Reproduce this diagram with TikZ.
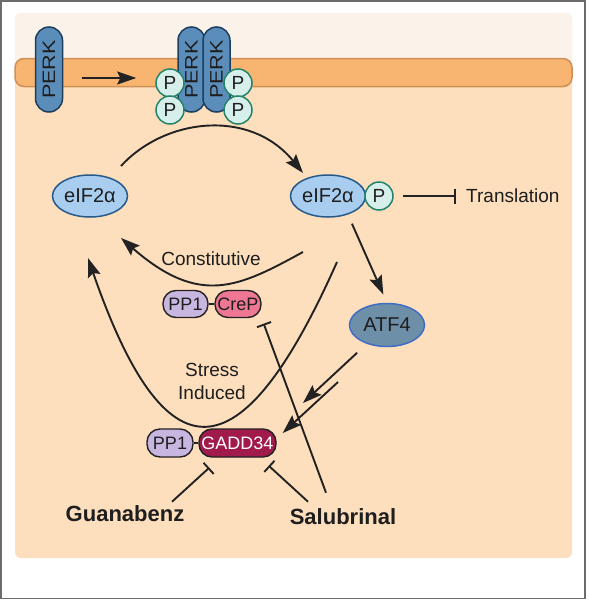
\documentclass[tikz,border=0pt]{standalone}
\usepackage{fontspec}
\setmainfont{Liberation Sans}
\usepackage{graphicx}
\usetikzlibrary{shapes.geometric,arrows.meta,calc}

\definecolor{framegray}{HTML}{6C6C6C}
\definecolor{cellbg}{HTML}{FDDEBD}
\definecolor{celltop}{HTML}{FBF3EA}
\definecolor{memmid}{HTML}{F8B571}
\definecolor{memedge}{HTML}{CF8F55}
\definecolor{perkfill}{HTML}{5B8DBA}
\definecolor{perkline}{HTML}{1D3E5C}
\definecolor{pfill}{HTML}{D7EFEA}
\definecolor{pline}{HTML}{23846A}
\definecolor{eiffill}{HTML}{A8CDEE}
\definecolor{eifline}{HTML}{255A8B}
\definecolor{atffill}{HTML}{6E8FA8}
\definecolor{atfline}{HTML}{3F6DC6}
\definecolor{ppfill}{HTML}{C7B6DF}
\definecolor{crepfill}{HTML}{EE7893}
\definecolor{gaddfill}{HTML}{A01A4B}
\definecolor{cline}{HTML}{222222}
\definecolor{txt}{HTML}{1E1E1E}

\begin{document}
\begin{tikzpicture}[x=1pt, y=-1pt,
		every node/.style={text=txt, inner sep=0pt},
		perk/.style={rectangle, rounded corners=13.5pt, fill=perkfill, draw=perkline, line width=1.5pt, minimum width=27pt, minimum height=85pt, font=\fontsize{18}{18}\selectfont},
		phos/.style={circle, fill=pfill, draw=pline, line width=1.5pt, minimum size=28pt, font=\fontsize{19}{19}\selectfont},
		eif/.style={ellipse, fill=eiffill, draw=eifline, line width=1.5pt, minimum width=75pt, minimum height=42pt, font=\fontsize{20}{20}\selectfont},
		pp/.style={rectangle, rounded corners=13pt, draw=cline, line width=1.4pt, minimum height=27pt, font=\fontsize{18}{18}\selectfont},
		lbl/.style={font=\fontsize{19}{23}\selectfont},
		drug/.style={font=\bfseries\fontsize{22}{22}\selectfont},
		arr/.style={draw=cline, line width=1.9pt, -{Stealth[length=19pt, width=13pt, inset=3pt]}},
		inh/.style={draw=cline, line width=1.9pt, -{Bar[width=15pt, line width=1.9pt]}}]
		    \useasboundingbox (0,0) rectangle (589,600);
		    \draw[framegray, line width=1.5pt] (0.75,0.75) rectangle (585,598.5);
		    \fill[cellbg, rounded corners=6pt] (15,13) rectangle (572,558);
		    \fill[celltop, rounded corners=6pt] (15,13) rectangle (572,72);
		    \draw[fill=memmid, draw=memedge, line width=1.5pt, rounded corners=9pt] (15,58.5) rectangle (572,86.5);

		    \node[perk] (perk1) at (49,69.5) {\rotatebox{90}{\scalebox{1.2}[1]{PERK}}};
		    \node[perk] (perk2) at (191.5,69.5) {\rotatebox{90}{\scalebox{1.2}[1]{PERK}}};
		    \node[perk] (perk3) at (216.5,69.5) {\rotatebox{90}{\scalebox{1.2}[1]{PERK}}};
		    \foreach \x/\y [count=\i] in {170/83, 170/110, 238/83, 238/110} {
		       \node[phos] (p\i) at (\x,\y) {P};
		       }
		    \draw[arr, shorten <=19pt, shorten >=19pt] ([yshift=-8.5pt]perk1.east) -- ([yshift=5pt]p1.west);

		    \node[eif] (eif) at (90,196) {eIF2α};
		    \node[eif] (eifp) at (328,196) {eIF2α};
		    \node[phos] (p5) at (379,196) {P};
		    \node[lbl, anchor=west] (trans) at (466,196) {Translation};
		    \node[eif, fill=atffill, draw=atfline, minimum height=43pt] (atf) at (387,325) {ATF4};

		    \node[pp, fill=ppfill, minimum width=45pt] (pp1) at (185.5,304) {PP1};
		    \node[pp, fill=crepfill, minimum width=46pt] (crep) at (238,304) {CreP};
		    \node[pp, fill=ppfill, minimum width=46pt, minimum height=28pt] (pp2) at (170,443) {PP1};
		    \node[pp, fill=gaddfill, text=white, minimum width=77pt, minimum height=28pt] (gadd) at (237.5,443) {GADD34};
		    \draw[cline, line width=1.4pt] (pp1) -- (crep);
		    \draw[cline, line width=1.4pt] (pp2) -- (gadd);

		    \node[lbl, anchor=base] (const) at (211,265) {Constitutive};
		    \node[lbl, align=center] (stress) at (212,381) {Stress\\Induced};
		    \node[drug] (guan) at (125,514) {Guanabenz};
		    \node[drug] (sal) at (343,517) {Salubrinal};

		    \coordinate (a1) at (303,403);
		    \coordinate (a2) at (338,382);

		    \draw[arr] ($(eif)+(31,-30)$) .. controls (165,118) and (250,108) .. ($(eifp)+(-25,-23)$);
		    \draw[arr] ($(eifp)+(-25,56)$) .. controls (239,287) and (200,307) .. ($(eif)+(31,42)$);
		    \draw[arr] ($(eifp)+(9,66)$) .. controls (240,480) and (165,480) .. ($(eif)+(-2,62)$);
		    \draw[inh, shorten <=9pt, shorten >=10pt] (p5) -- (trans);
		    \draw[arr, shorten <=10pt, shorten >=9pt] (eifp.-43) -- (atf.north);
		    \draw[arr, shorten <=13pt] (atf) -- (a1);
		    \draw[arr] (a2) -- ($(gadd.east)+(6,-10)$);

		    \draw[inh] ($(sal.north)+(-17,-16)$) -- ($(crep.south east)+(2,5.5)$);
		    \draw[inh] ($(sal.north)+(-35,-7)$) -- ($(gadd.south east)+(-8,8)$);
		    \draw[inh] ($(guan.north)+(47,-4)$) -- ($(gadd.south west)+(11,10)$);
		\end{tikzpicture}
\end{document}
